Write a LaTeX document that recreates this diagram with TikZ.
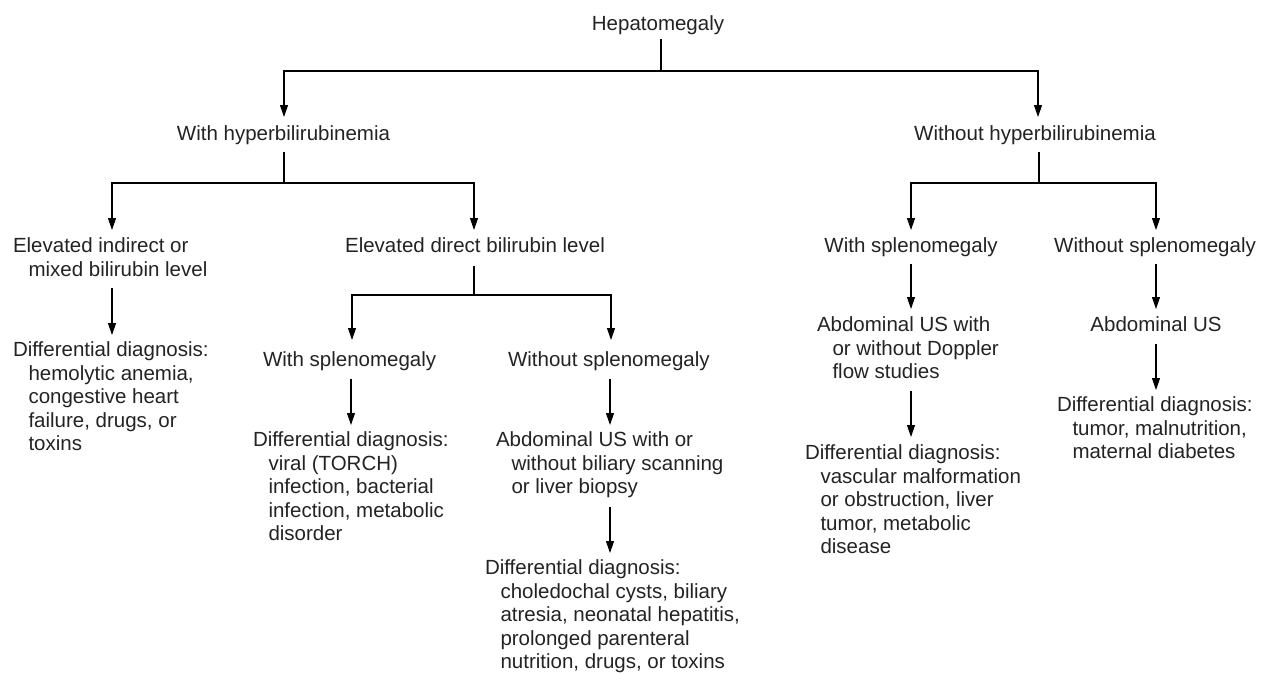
\documentclass[tikz,border=0pt]{standalone}
\usepackage{fontspec}
\setmainfont{Liberation Sans}
\usetikzlibrary{arrows.meta}
\definecolor{textgray}{RGB}{35,35,35}
\newcommand{\hind}{\hspace*{15.5pt}}
\begin{document}
\begin{tikzpicture}[x=1pt,y=-1pt,
  txt/.style={inner sep=0pt, outer sep=0pt, align=left,
    font=\fontsize{20.5}{23.5}\selectfont, text=textgray},
  ln/.style={line width=1.1pt, draw=black},
  arr/.style={ln, -{Triangle[width=8pt,length=12pt]}}]
\useasboundingbox (0,0) rectangle (1261,673);

% nodes
\node[txt, anchor=north] (hep) at (658,16) {Hepatomegaly};
\node[txt, anchor=north] (wh) at (283.5,126) {With hyperbilirubinemia};
\node[txt, anchor=north] (woh) at (1035,126) {Without hyperbilirubinemia};

\node[txt, anchor=north west] (ei) at (13,238) {Elevated indirect or\\\hind mixed bilirubin level};
\node[txt, anchor=north] (ed) at (475,238) {Elevated direct bilirubin level};
\node[txt, anchor=north west] (dd1) at (13,342) {Differential diagnosis:\\\hind hemolytic anemia,\\\hind congestive heart\\\hind failure, drugs, or\\\hind toxins};

\node[txt, anchor=north west] (ws1) at (263,352) {With splenomegaly};
\node[txt, anchor=north west] (wos1) at (508,352) {Without splenomegaly};
\node[txt, anchor=north west] (dd2) at (253,432) {Differential diagnosis:\\\hind viral (TORCH)\\\hind infection, bacterial\\\hind infection, metabolic\\\hind disorder};
\node[txt, anchor=north west] (us1) at (496,432) {Abdominal US with or\\\hind without biliary scanning\\\hind or liver biopsy};
\node[txt, anchor=north west] (dd3) at (485,560) {Differential diagnosis:\\\hind choledochal cysts, biliary\\\hind atresia, neonatal hepatitis,\\\hind prolonged parenteral\\\hind nutrition, drugs, or toxins};

\node[txt, anchor=north] (ws2) at (911,238) {With splenomegaly};
\node[txt, anchor=north] (wos2) at (1155,238) {Without splenomegaly};
\node[txt, anchor=north west] (us2) at (817,317) {Abdominal US with\\\hind or without Doppler\\\hind flow studies};
\node[txt, anchor=north] (us3) at (1156,317) {Abdominal US};
\node[txt, anchor=north west] (dd4) at (805,445) {Differential diagnosis:\\\hind vascular malformation\\\hind or obstruction, liver\\\hind tumor, metabolic\\\hind disease};
\node[txt, anchor=north west] (dd5) at (1057,397) {Differential diagnosis:\\\hind tumor, malnutrition,\\\hind maternal diabetes};

% top level
\coordinate (j0) at (661,71);
\draw[ln, shorten <=4pt] (j0 |- hep.south) -- (j0);
\draw[arr, shorten >=9pt] (j0) -| (284,0 |- wh.north);
\draw[arr, shorten >=9pt] (j0) -| (1038,0 |- woh.north);

% left subtree
\coordinate (j1) at (284,183);
\draw[ln, shorten <=6.7pt] (j1 |- wh.south) -- (j1);
\draw[arr, shorten >=8pt] (j1) -| (112,0 |- ei.north);
\draw[arr, shorten >=8pt] (j1) -| (474,0 |- ed.north);
\draw[arr, shorten <=11pt, shorten >=7pt] (112,0 |- ei.south) -- (112,0 |- dd1.north);

\coordinate (j2) at (474,295);
\draw[ln, shorten <=13pt] (j2 |- ed.south) -- (j2);
\draw[arr, shorten >=12pt] (j2) -| (352,0 |- ws1.north);
\draw[arr, shorten >=12pt] (j2) -| (611,0 |- wos1.north);
\draw[arr, shorten <=7.7pt, shorten >=7pt] (351,0 |- ws1.south) -- (351,0 |- dd2.north);
\draw[arr, shorten <=7.7pt, shorten >=7pt] (610,0 |- wos1.south) -- (610,0 |- us1.north);
\draw[arr, shorten <=8.7pt, shorten >=7pt] (610,0 |- us1.south) -- (610,0 |- dd3.north);

% right subtree
\coordinate (j3) at (1039,183);
\draw[ln, shorten <=6.7pt] (j3 |- woh.south) -- (j3);
\draw[arr, shorten >=8pt] (j3) -| (911,0 |- ws2.north);
\draw[arr, shorten >=8pt] (j3) -| (1156,0 |- wos2.north);
\draw[arr, shorten <=6.7pt, shorten >=8pt] (911,0 |- ws2.south) -- (911,0 |- us2.north);
\draw[arr, shorten <=6.7pt, shorten >=8pt] (1156,0 |- wos2.south) -- (1156,0 |- us3.north);
\draw[arr, shorten <=12pt, shorten >=8pt] (911,0 |- us2.south) -- (911,0 |- dd4.north);
\draw[arr, shorten <=12pt, shorten >=7pt] (1156,0 |- us3.south) -- (1156,0 |- dd5.north);
\end{tikzpicture}
\end{document}
